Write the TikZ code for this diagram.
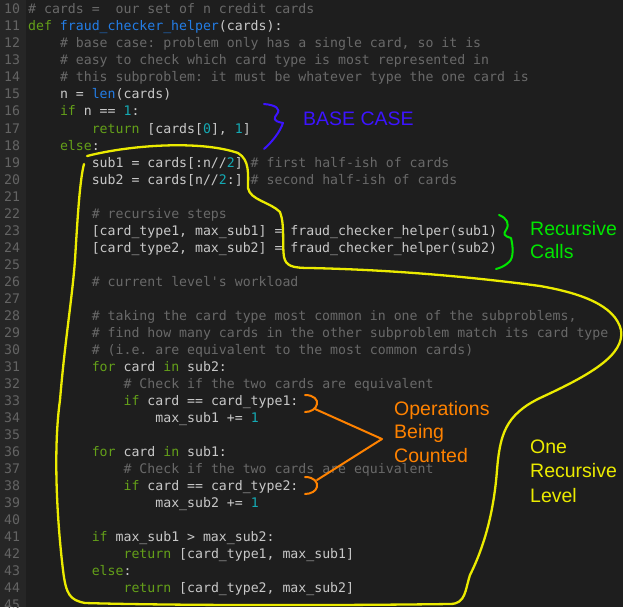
\documentclass[tikz,border=0pt]{standalone}
\usepackage{fontspec}
\setmainfont{Liberation Sans}
\newfontfamily\codefont{DejaVu Sans Mono}

\definecolor{editorbg}{RGB}{30,30,30}
\definecolor{gutterbg}{RGB}{38,38,38}
\definecolor{numgray}{RGB}{100,100,100}
\definecolor{codegray}{RGB}{200,200,200}
\definecolor{commentgray}{RGB}{105,105,105}
\definecolor{kwgreen}{RGB}{100,160,25}
\definecolor{fnblue}{RGB}{35,125,230}
\definecolor{numcyan}{RGB}{20,170,180}
\definecolor{penblue}{RGB}{60,20,255}
\definecolor{pengreen}{RGB}{0,230,0}
\definecolor{penorange}{RGB}{255,130,0}
\definecolor{penyellow}{RGB}{235,235,0}

\newcommand{\kw}[1]{\textcolor{kwgreen}{#1}}
\newcommand{\fn}[1]{\textcolor{fnblue}{#1}}
\newcommand{\nm}[1]{\textcolor{numcyan}{#1}}
\newcommand{\cm}[1]{\textcolor{commentgray}{#1}}

\begin{document}
\begin{tikzpicture}[x=1pt, y=-1pt,
    codeline/.style={anchor=base west, inner sep=0pt, text=codegray,
      font=\codefont\fontsize{13.2}{17}\selectfont},
    comment/.style={codeline, text=commentgray},
    linenum/.style={anchor=base west, inner sep=0pt, text=numgray,
      font=\codefont\fontsize{13.2}{17}\selectfont},
    pen/.style={line width=2pt, line cap=round, line join=round},
    penlabel/.style={anchor=base west, inner sep=0pt,
      font=\fontsize{19.5}{24}\selectfont}]

  % --- editor background and gutter ---
  \useasboundingbox (0,0) rectangle (623,607);
  \fill[editorbg] (0,0) rectangle (623,607);
  \fill[gutterbg] (0,0) rectangle (26,607);

  % --- line numbers ---
  \foreach \n in {10,...,45}
    \node[linenum] (n\n) at (4,{14+(\n-10)*17}) {\n};

  % --- code, one node per line ---
  \node[comment]  (l10) at (28,14)          {\#~cards~=~~our~set~of~n~credit~cards};
  \node[codeline] (l11) at (28,31)          {\kw{def}~\fn{fraud\_checker\_helper}(cards):};
  \node[comment]  (l12) at (59.8,48)        {\#~base~case:~problem~only~has~a~single~card,~so~it~is};
  \node[comment]  (l13) at (59.8,65)        {\#~easy~to~check~which~card~type~is~most~represented~in};
  \node[comment]  (l14) at (59.8,82)        {\#~this~subproblem:~it~must~be~whatever~type~the~one~card~is};
  \node[codeline] (l15) at (59.8,99)        {n~=~\fn{len}(cards)};
  \node[codeline] (l16) at (59.8,116)       {\kw{if}~n~==~\nm{1}:};
  \node[codeline] (l17) at (91.6,133)       {\kw{return}~[cards[\nm{0}],~\nm{1}]};
  \node[codeline] (l18) at (59.8,150)       {\kw{else}:};
  \node[codeline] (l19) at (91.6,167)       {sub1~=~cards[:n//\nm{2}]~\cm{\#~first~half-ish~of~cards}};
  \node[codeline] (l20) at (91.6,184)       {sub2~=~cards[n//\nm{2}:]~\cm{\#~second~half-ish~of~cards}};
  \node[comment]  (l22) at (91.6,218)       {\#~recursive~steps};
  \node[codeline] (l23) at (91.6,235)       {[card\_type1,~max\_sub1]~=~fraud\_checker\_helper(sub1)};
  \node[codeline] (l24) at (91.6,252)       {[card\_type2,~max\_sub2]~=~fraud\_checker\_helper(sub2)};
  \node[comment]  (l26) at (91.6,286)       {\#~current~level's~workload};
  \node[comment]  (l28) at (91.6,320)       {\#~taking~the~card~type~most~common~in~one~of~the~subproblems,};
  \node[comment]  (l29) at (91.6,337)       {\#~find~how~many~cards~in~the~other~subproblem~match~its~card~type};
  \node[comment]  (l30) at (91.6,354)       {\#~(i.e.~are~equivalent~to~the~most~common~cards)};
  \node[codeline] (l31) at (91.6,371)       {\kw{for}~card~\kw{in}~sub2:};
  \node[comment]  (l32) at (123.4,388)      {\#~Check~if~the~two~cards~are~equivalent};
  \node[codeline] (l33) at (123.4,405)      {\kw{if}~card~==~card\_type1:};
  \node[codeline] (l34) at (155.2,422)      {max\_sub1~+=~\nm{1}};
  \node[codeline] (l36) at (91.6,456)       {\kw{for}~card~\kw{in}~sub1:};
  \node[comment]  (l37) at (123.4,473)      {\#~Check~if~the~two~cards~are~equivalent};
  \node[codeline] (l38) at (123.4,490)      {\kw{if}~card~==~card\_type2:};
  \node[codeline] (l39) at (155.2,507)      {max\_sub2~+=~\nm{1}};
  \node[codeline] (l41) at (91.6,541)       {\kw{if}~max\_sub1~>~max\_sub2:};
  \node[codeline] (l42) at (123.4,558)      {\kw{return}~[card\_type1,~max\_sub1]};
  \node[codeline] (l43) at (91.6,575)       {\kw{else}:};
  \node[codeline] (l44) at (123.4,592)      {\kw{return}~[card\_type2,~max\_sub2]};

  % --- base case brace ---
  \draw[pen, penblue] (264,104) .. controls (276,105) and (281,109) .. (277,114)
        .. controls (274,118) and (272,121) .. (283,123)
        .. controls (280,132) and (272,142) .. (264,149);
  \node[penlabel, text=penblue] (basecase) at (303,125) {BASE CASE};

  % --- recursive calls brace ---
  \draw[pen, pengreen] (499,215) .. controls (507,218) and (510,224) .. (506,230)
        .. controls (503,234) and (504,236) .. (511,238)
        .. controls (513,246) and (514,258) .. (509,262)
        .. controls (505,266) and (500,268) .. (496,269);
  \node[penlabel, text=pengreen] (rec1) at (530,235) {Recursive};
  \node[penlabel, text=pengreen] (rec2) at (530,258) {Calls};

  % --- operations being counted ---
  \coordinate (optip) at (382,439);
  \draw[pen, penorange] (305,395) .. controls (314,395) and (318,400) .. (317,404)
        .. controls (316,409) and (311,412) .. (305,412);
  \draw[pen, penorange] (305,477) .. controls (314,477) and (318,482) .. (317,487)
        .. controls (316,491) and (311,494) .. (305,494);
  \draw[pen, penorange] (315,409) -- (optip) -- (317,480);
  \node[penlabel, text=penorange] (ops1) at (394,415) {Operations};
  \node[penlabel, text=penorange] (ops2) at (394,438) {Being};
  \node[penlabel, text=penorange] (ops3) at (394,462) {Counted};

  % --- one recursive level (freehand loop) ---
  \draw[pen, penyellow, line width=2.3pt] (87,156)
        .. controls (130,145) and (200,140) .. (238,153)
        .. controls (250,160) and (248,175) .. (248,188)
        .. controls (250,200) and (270,202) .. (280,212)
        .. controls (285,225) and (282,245) .. (284,257)
        .. controls (286,266) and (292,268) .. (310,268)
        .. controls (400,270) and (480,278) .. (540,286)
        .. controls (580,293) and (615,305) .. (621,330)
        .. controls (625,355) and (590,375) .. (540,398)
        .. controls (505,415) and (500,435) .. (497,470)
        .. controls (494,510) and (485,545) .. (470,575)
        .. controls (465,590) and (466,604) .. (450,604)
        .. controls (300,606) and (150,605) .. (85,603)
        .. controls (70,600) and (66,595) .. (63,570)
        .. controls (57,520) and (53,450) .. (60,400)
        .. controls (65,340) and (72,300) .. (75,260)
        .. controls (78,210) and (80,180) .. (84,164);
  \node[penlabel, text=penyellow] (lvl1) at (530,453) {One};
  \node[penlabel, text=penyellow] (lvl2) at (530,477) {Recursive};
  \node[penlabel, text=penyellow] (lvl3) at (530,502) {Level};

\end{tikzpicture}
\end{document}
